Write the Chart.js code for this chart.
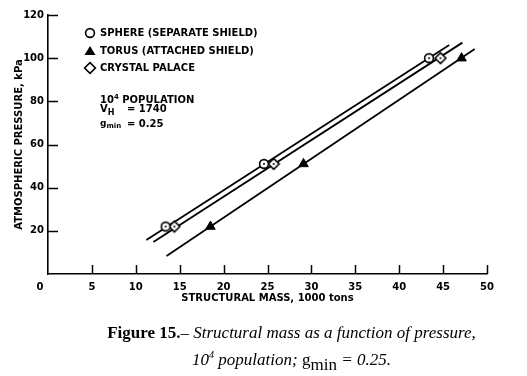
<!DOCTYPE html>
<html>
<head>
<meta charset="utf-8">
<script src="https://cdn.jsdelivr.net/npm/chart.js@4/dist/chart.umd.min.js"></script>
<style>
  html, body { margin: 0; padding: 0; background: #fff; }
  #wrap { position: relative; width: 527px; height: 376px; overflow: hidden; }
  #c { position: absolute; left: 0; top: 0; }
  .ann { position: absolute; font-family: "DejaVu Sans", sans-serif; font-weight: bold; font-size: 10px; color: #000; line-height: 12px; white-space: nowrap; }
  .cap { position: absolute; left: 28px; width: 527px; text-align: center; font-family: "Liberation Serif", "Times New Roman", serif; font-size: 17px; color: #000; white-space: nowrap; line-height: 20px; }
  .cap i { font-style: italic; }
</style>
</head>
<body>
<div id="wrap">
  <canvas id="c" width="527" height="376"></canvas>
  <div class="ann" style="left:100px; top:91px;">10<sup style="font-size:7px; vertical-align:4px;">4</sup> POPULATION</div>
  <div class="ann" style="left:100px; top:103px;">V<sub style="font-size:8px; vertical-align:-3px;">H</sub></div>
  <div class="ann" style="left:127px; top:103px;">= 1740</div>
  <div class="ann" style="left:100px; top:117px; font-size:9px;">g<sub style="font-size:7px; vertical-align:-2px;">min</sub></div>
  <div class="ann" style="left:127px; top:118px;">= 0.25</div>
  <div class="cap" style="top:323px;"><b>Figure 15.</b>– <i>Structural mass as a function of pressure,</i></div>
  <div class="cap" style="top:345px;"><i>10<sup style="font-size:10px; vertical-align:7px;">4</sup> population;</i> g<span style="position:relative; top:5px;">min</span> <i>= 0.25.</i></div>
</div>
<script>
// ---- data ----
const seriesNames = ['SPHERE (SEPARATE SHIELD)', 'TORUS (ATTACHED SHIELD)', 'CRYSTAL PALACE'];
const pressure = [22, 51, 100];                 // kPa
const sphereMass = [13.4, 24.6, 43.4];          // 1000 tons
const torusMass = [18.5, 29.1, 47.1];
const crystalMass = [14.4, 25.7, 44.7];
// fitted straight lines (endpoints as drawn on the figure): [mass, pressure]
const sphereLineX = [11.2, 45.7];  const sphereLineY = [15.8, 106.1];
const torusLineX = [13.5, 48.6];   const torusLineY = [8.3, 104.3];
const crystalLineX = [12.0, 47.2]; const crystalLineY = [14.8, 107.2];
const xTicks = [0, 5, 10, 15, 20, 25, 30, 35, 40, 45, 50];
const yTicks = [20, 40, 60, 80, 100, 120];
const xTitle = 'STRUCTURAL MASS, 1000 tons';
const yTitle = 'ATMOSPHERIC PRESSURE, kPa';

// ---- marker images ----
function makeMarker(kind, dot) {
  const s = 14, cv = document.createElement('canvas');
  cv.width = s; cv.height = s;
  const g = cv.getContext('2d');
  const c = s / 2;
  g.lineWidth = 1.6; g.strokeStyle = '#000'; g.fillStyle = '#fff';
  g.beginPath();
  if (kind === 'circle') {
    g.arc(c, c, 4.4, 0, Math.PI * 2);
  } else {
    g.moveTo(c, c - 5.4); g.lineTo(c + 5.4, c); g.lineTo(c, c + 5.4); g.lineTo(c - 5.4, c); g.closePath();
  }
  g.fill(); g.stroke();
  if (dot) { g.fillStyle = '#000'; g.beginPath(); g.arc(c, c, 1.0, 0, Math.PI * 2); g.fill(); }
  return cv;
}
const circleDot = makeMarker('circle', true);
const diamondDot = makeMarker('diamond', true);
const circlePlain = makeMarker('circle', false);
const diamondPlain = makeMarker('diamond', false);

const pts = (xs, ys) => xs.map((x, i) => ({ x: x, y: ys[i] }));

const datasets = [
  { label: seriesNames[0], data: pts(sphereMass, pressure), pointStyle: circleDot, pointRadius: 6, order: 0, showLine: false },
  { label: seriesNames[1], data: pts(torusMass, pressure), pointStyle: 'triangle', pointRadius: 5.5, backgroundColor: '#000', borderColor: '#000', borderWidth: 1, order: 0, showLine: false },
  { label: seriesNames[2], data: pts(crystalMass, pressure), pointStyle: diamondDot, pointRadius: 6, order: 0, showLine: false },
  { label: 'sphere fit', data: pts(sphereLineX, sphereLineY), showLine: true, pointRadius: 0, borderColor: '#000', borderWidth: 1.8, order: 1 },
  { label: 'torus fit', data: pts(torusLineX, torusLineY), showLine: true, pointRadius: 0, borderColor: '#000', borderWidth: 1.8, order: 1 },
  { label: 'crystal fit', data: pts(crystalLineX, crystalLineY), showLine: true, pointRadius: 0, borderColor: '#000', borderWidth: 1.8, order: 1 }
];

const FONT = { family: '"DejaVu Sans", sans-serif', size: 10, weight: 'bold' };

const decor = {
  id: 'decor',
  afterDraw(chart) {
    const ctx = chart.ctx, xs = chart.scales.x, ys = chart.scales.y;
    ctx.save();
    ctx.strokeStyle = '#000'; ctx.lineWidth = 1.5;
    // inward ticks
    yTicks.forEach(v => {
      const y = Math.round(ys.getPixelForValue(v)) + 0.5;
      ctx.beginPath(); ctx.moveTo(xs.left, y); ctx.lineTo(xs.left + 10, y); ctx.stroke();
    });
    xTicks.forEach(v => {
      if (v === 0) return;
      const x = Math.round(xs.getPixelForValue(v)) + 0.5;
      ctx.beginPath(); ctx.moveTo(x, ys.bottom); ctx.lineTo(x, ys.bottom - 9); ctx.stroke();
    });
    ctx.fillStyle = '#000';
    ctx.font = 'bold 10px "DejaVu Sans", sans-serif';
    ctx.textBaseline = 'middle';
    // origin label, set to the left of the corner as in the figure
    ctx.textAlign = 'center';
    ctx.fillText(String(xTicks[0]), xs.getPixelForValue(xTicks[0]) - 8, ys.bottom + 13);
    // legend
    ctx.textAlign = 'left';
    const rows = [33, 51, 68];
    const lx = 90, tx = 100;
    ctx.drawImage(circlePlain, lx - 7, rows[0] - 7);
    ctx.beginPath();
    ctx.moveTo(lx, rows[1] - 5); ctx.lineTo(lx + 5.5, rows[1] + 4); ctx.lineTo(lx - 5.5, rows[1] + 4); ctx.closePath(); ctx.fill();
    ctx.drawImage(diamondPlain, lx - 7, rows[2] - 7);
    seriesNames.forEach((n, i) => ctx.fillText(n, tx, rows[i]));
    ctx.restore();
  }
};

new Chart(document.getElementById('c'), {
  type: 'scatter',
  data: { datasets: datasets },
  options: {
    responsive: false,
    animation: false,
    events: [],
    layout: { padding: { top: 15, right: 40, left: 9, bottom: 69 } },
    plugins: { legend: { display: false }, tooltip: { enabled: false } },
    scales: {
      x: {
        type: 'linear', min: 0, max: 50,
        afterBuildTicks: s => { s.ticks = xTicks.map(v => ({ value: v })); },
        afterFit: s => { s.height = 33; },
        grid: { display: false, drawTicks: false },
        border: { display: true, color: '#000', width: 1.6 },
        ticks: { color: '#000', font: FONT, padding: 7, maxRotation: 0, autoSkip: false,
                 callback: v => (v === 0 ? '' : String(v)) },
        title: { display: true, text: xTitle, color: '#000', font: FONT, padding: { top: 2, bottom: 3 } }
      },
      y: {
        type: 'linear', min: 0, max: 120,
        afterBuildTicks: s => { s.ticks = yTicks.map(v => ({ value: v })); },
        afterFit: s => { s.width = 39; },
        grid: { display: false, drawTicks: false },
        border: { display: true, color: '#000', width: 1.6 },
        ticks: { color: '#000', font: FONT, padding: 4, autoSkip: false },
        title: { display: true, text: yTitle, color: '#000', font: FONT, padding: { top: 4, bottom: 2 } }
      }
    }
  },
  plugins: [decor]
});
</script>
</body>
</html>
